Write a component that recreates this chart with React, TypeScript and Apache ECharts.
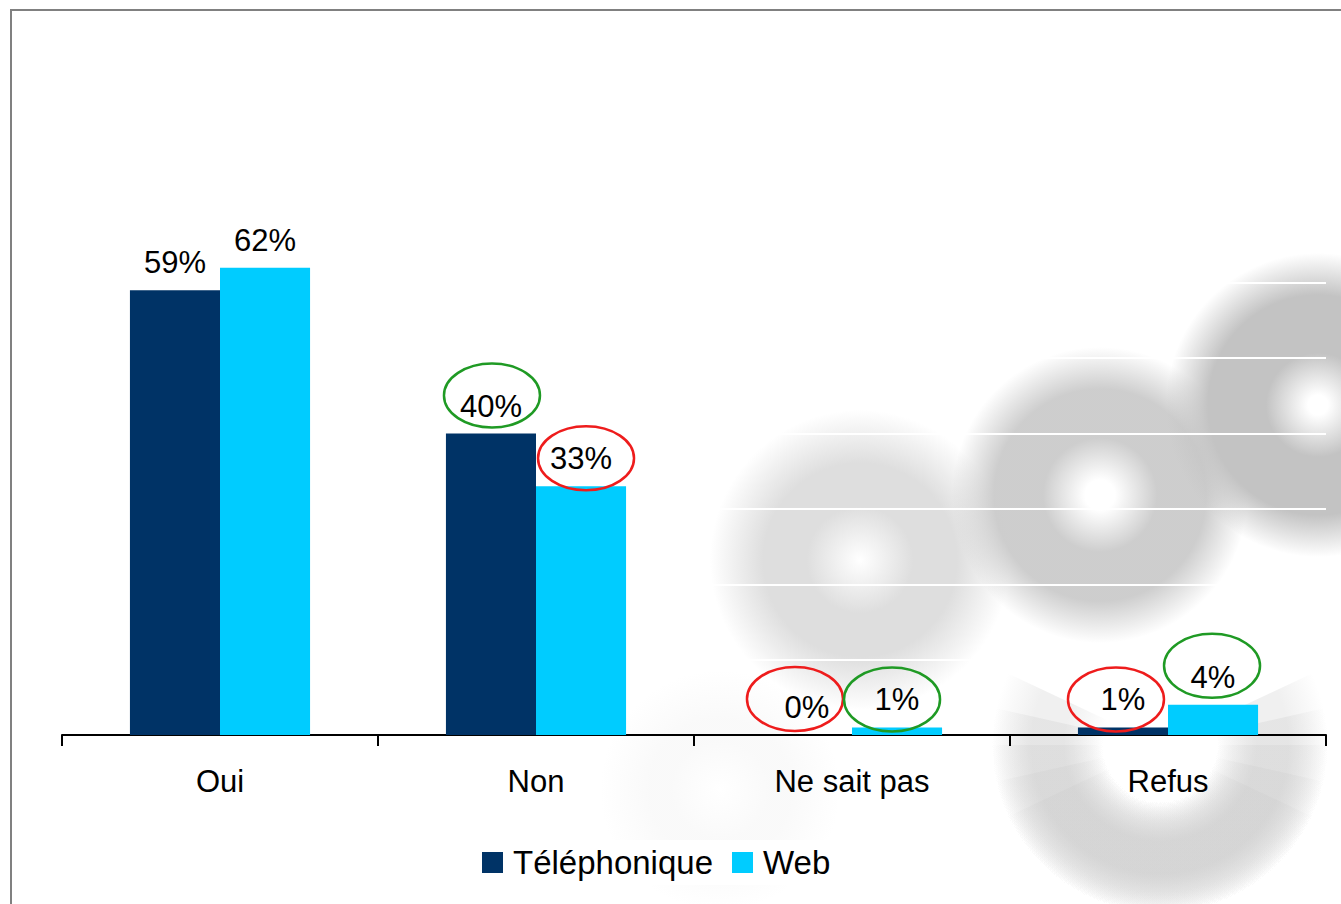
import React, { useEffect, useRef } from "react";
import * as echarts from "echarts";

// ---- data ----
const CATEGORIES = ["Oui", "Non", "Ne sait pas", "Refus"];
const SERIES_NAMES = ["Téléphonique", "Web"];
const TELEPHONIQUE = [59, 40, 0, 1];
const WEB = [62, 33, 1, 4];
// highlighted labels: category index, series index (0 = Téléphonique, 1 = Web), verdict
const HIGHLIGHT_CAT = [1, 1, 2, 2, 3, 3];
const HIGHLIGHT_SERIES = [0, 1, 0, 1, 0, 1];
const HIGHLIGHT_VERDICT = ["good", "bad", "bad", "good", "bad", "good"];

// ---- styling (not data) ----
const FONT = "Liberation Sans";
const NAVY = "#003366";
const CYAN = "#00CCFF";
const VERDICT_COLOR: Record<string, string> = { good: "#1f9a24", bad: "#ee1c1c" };
// hand-drawn ellipse nudges (px) relative to the bar top centre
const NUDGE_X = [1, 5, -12, -5, -7, -1];
const NUDGE_Y = [-38, -28, -36, -28, -28, -39];

function softFill(cx: number, cy: number, rIn: number, rOut: number, blur: number, g: number, a: number) {
  const R = rOut + blur;
  const c = (al: number) => `rgba(${g},${g},${g},${al})`;
  const s = (v: number) => Math.max(0, Math.min(1, v / R));
  return {
    type: "radial",
    x: cx,
    y: cy,
    r: R,
    global: true,
    colorStops: [
      { offset: 0, color: c(0) },
      { offset: s(rIn - blur), color: c(0) },
      { offset: s(rIn + blur * 0.4), color: c(a) },
      { offset: s(rOut - blur * 0.4), color: c(a) },
      { offset: 1, color: c(0) },
    ],
  };
}

function softRing(cx: number, cy: number, rIn: number, rOut: number, blur: number, g: number, a = 1) {
  return {
    type: "circle",
    z: -10,
    silent: true,
    shape: { cx, cy, r: rOut + blur },
    style: { fill: softFill(cx, cy, rIn, rOut, blur, g, a) },
  };
}

// arc with faded ends: several overlapping faint sectors
function softArcLayers(cx: number, cy: number, rIn: number, rOut: number, blur: number, g: number, a: number, start: number, end: number, layers: number, spread: number) {
  const out: any[] = [];
  for (let i = 0; i < layers; i++) {
    const d = (spread * (i - (layers - 1) / 2)) / layers;
    out.push({
      type: "sector",
      z: -10,
      silent: true,
      shape: { cx, cy, r: rOut + blur, r0: 0, startAngle: start - d, endAngle: end + d, clockwise: true },
      style: { fill: softFill(cx, cy, rIn, rOut, blur, g, a) },
    });
  }
  return out;
}

export default function App() {
  const ref = useRef<HTMLDivElement>(null);

  useEffect(() => {
    if (!ref.current) return;
    const chart = echarts.init(ref.current, undefined, { renderer: "svg" });
    const seriesValues = [TELEPHONIQUE, WEB];
    const ellipseData = HIGHLIGHT_CAT.map((c, i) => [
      c,
      seriesValues[HIGHLIGHT_SERIES[i]][c],
      HIGHLIGHT_SERIES[i],
      i,
    ]);

    const labelCfg = {
      show: true,
      position: "top",
      distance: 12,
      color: "#000",
      fontSize: 31,
      fontFamily: FONT,
      formatter: "{c}%",
    };

    chart.setOption({
      animation: false,
      backgroundColor: "#ffffff",
      textStyle: { fontFamily: FONT },
      graphic: [
        // faded, blurred watermark behind the plot
        softRing(720, 790, 35, 85, 35, 200, 0.1),
        softRing(860, 560, 38, 112, 38, 200, 0.6),
        softRing(1100, 495, 45, 118, 30, 200, 0.9),
        softRing(1318, 405, 40, 122, 30, 195, 1),
        ...softArcLayers(1160, 745, 85, 140, 28, 205, 0.3, 0, Math.PI, 5, Math.PI * 0.35),
        // outer frame
        {
          type: "rect",
          z: 100,
          shape: { x: 11, y: 10, width: 1400, height: 1000 },
          style: { fill: "none", stroke: "#808080", lineWidth: 2 },
        },
      ],
      legend: {
        data: SERIES_NAMES,
        left: 474,
        top: 840,
        padding: [6, 12, 6, 8],
        backgroundColor: "#ffffff",
        itemWidth: 21,
        itemHeight: 21,
        itemGap: 19,
        icon: "rect",
        textStyle: { fontSize: 33, color: "#000", fontFamily: FONT, padding: [0, 0, 0, 5] },
      },
      grid: { left: 62, right: 15, top: 132, bottom: 169, containLabel: false },
      xAxis: {
        type: "category",
        data: CATEGORIES,
        axisLine: { lineStyle: { color: "#000", width: 2 } },
        axisTick: { show: true, length: 11, lineStyle: { color: "#000", width: 2 } },
        axisLabel: { color: "#000", fontSize: 31, fontFamily: FONT, margin: 31 },
      },
      yAxis: {
        type: "value",
        min: 0,
        max: 80,
        interval: 10,
        axisLabel: { show: false },
        axisLine: { show: false },
        axisTick: { show: false },
        splitLine: { show: true, lineStyle: { color: "#ffffff", width: 2 } },
      },
      series: [
        {
          name: SERIES_NAMES[0],
          type: "bar",
          data: TELEPHONIQUE,
          barGap: "0%",
          barCategoryGap: "43%",
          itemStyle: { color: NAVY },
          label: labelCfg,
          z: 3,
        },
        {
          name: SERIES_NAMES[1],
          type: "bar",
          data: WEB,
          barGap: "0%",
          barCategoryGap: "43%",
          itemStyle: { color: CYAN },
          label: labelCfg,
          z: 3,
        },
        {
          name: "highlights",
          type: "custom",
          z: 10,
          silent: true,
          data: ellipseData,
          renderItem: (params: any, api: any) => {
            const cat = api.value(0);
            const val = api.value(1);
            const s = api.value(2);
            const idx = api.value(3);
            const pt = api.coord([cat, val]);
            const band = api.size([1, 0])[0];
            const bw = (band * (1 - 0.43)) / 2;
            const cx = pt[0] + (s === 0 ? -bw / 2 : bw / 2) + NUDGE_X[idx];
            const cy = pt[1] + NUDGE_Y[idx];
            return {
              type: "ellipse",
              shape: { cx, cy, rx: 48, ry: 32 },
              style: {
                fill: "none",
                stroke: VERDICT_COLOR[HIGHLIGHT_VERDICT[idx]],
                lineWidth: 2.5,
              },
            };
          },
        },
      ],
    });

    return () => chart.dispose();
  }, []);

  return (
    <div
      ref={ref}
      style={{ position: "absolute", left: 0, top: 0, width: 1341, height: 904 }}
    />
  );
}
